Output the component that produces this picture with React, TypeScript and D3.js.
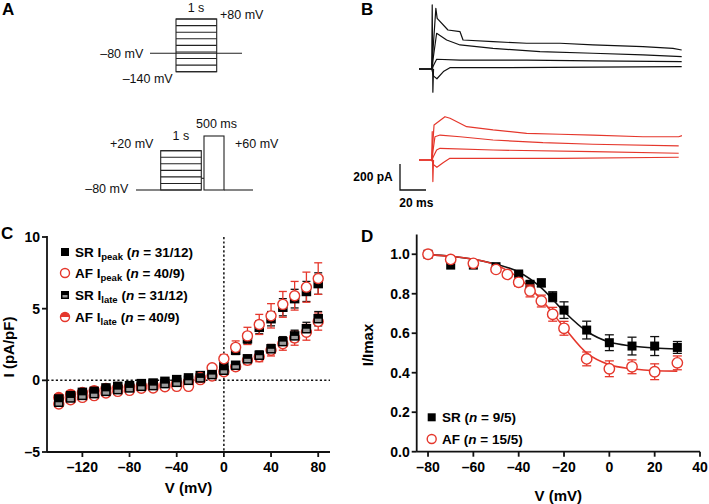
import React from 'react';
import * as d3 from 'd3';

const RED = '#e5372c';
const GRAY = '#9b9b9b';
const FONT = "'Liberation Sans', Arial, Helvetica, sans-serif";

// ---------- Panel A: protocol rungs (schematic step indices)
const protocolARungs = [0, 1, 2, 3, 4, 5, 6, 7, 8];
const protocolBRungs = [0, 1, 2, 3, 4, 5, 6];

// ---------- Panel B: current traces [time (ms), current (pA)]
const blackTrace1: [number, number][] = [[-9.8, 0], [0, 0], [3.2, 467], [4.2, 390], [12.5, 300], [21.8, 287], [24.1, 223], [47.2, 210], [73, 198], [98.7, 198], [124, 185], [162.5, 172], [185.6, 159], [192.3, 146]];
const blackTrace2: [number, number][] = [[-9.8, 0], [0, 0], [3.8, 275], [11.5, 223], [21.8, 185], [47.2, 159], [83.3, 133], [124, 121], [162.5, 108], [192.3, 95]];
const blackTrace3: [number, number][] = [[-9.8, 0], [0, 0], [3.8, 75], [21.8, 69], [73.3, 69], [124, 62], [192.3, 56]];
const blackTrace4: [number, number][] = [[-9.8, 0], [0, 0], [1.5, -55], [4, -75], [9, -20], [14, 10], [60, 10], [124, 15], [192.3, 18]];
const blackArtifact: [number, number][] = [[0, 0], [0.4, 493], [0.9, -178], [1.4, 0]];
const redTrace1: [number, number][] = [[-9.8, 0], [0, 0], [1.8, 269], [10.2, 333], [14.1, 321], [26.9, 256], [47.2, 231], [73, 205], [98.7, 198], [124, 192], [162.5, 179], [190, 179], [192.5, 187]];
const redTrace2: [number, number][] = [[-9.8, 0], [0, 0], [2.5, 179], [6.4, 192], [21.8, 179], [47.2, 154], [85.6, 133], [124, 121], [190, 108]];
const redTrace3: [number, number][] = [[-9.8, 0], [0, 0], [3.8, 77], [6.4, 90], [47.2, 77], [124, 64], [190, 52]];
const redTrace4: [number, number][] = [[-9.8, 0], [0, 0], [1.5, -37], [4, -56], [9, -19], [14, 13], [98.7, 13], [190, 21]];
const redArtifact: [number, number][] = [[0, 0], [0.4, 218], [0.9, -166], [1.4, 0]];
const scaleBarMs = 20;
const scaleBarPA = 200;

// ---------- Panel C: I-V
const voltagesC = [-140, -130, -120, -110, -100, -90, -80, -70, -60, -50, -40, -30, -20, -10, 0, 10, 20, 30, 40, 50, 60, 70, 80];
const srPeak = [-1.3, -1.07, -0.84, -0.77, -0.53, -0.42, -0.37, -0.23, -0.19, -0.07, 0.05, 0.17, 0.33, 0.6, 0.95, 2.1, 2.9, 3.7, 4.3, 5.1, 5.7, 6.2, 6.75];
const srPeakErr = [0.15, 0.15, 0.15, 0.15, 0.15, 0.15, 0.15, 0.15, 0.15, 0.15, 0.15, 0.15, 0.15, 0.15, 0.2, 0.3, 0.35, 0.45, 0.5, 0.6, 0.65, 0.7, 0.75];
const afPeak = [-1.65, -1.35, -1.19, -1.07, -0.88, -0.77, -0.7, -0.55, -0.53, -0.45, -0.42, -0.42, 0.2, 0.88, 1.5, 2.3, 3.1, 3.9, 4.5, 5.3, 5.9, 6.5, 7.1];
const afPeakErr = [0.2, 0.2, 0.2, 0.2, 0.2, 0.2, 0.2, 0.2, 0.2, 0.2, 0.2, 0.2, 0.2, 0.2, 0.3, 0.45, 0.6, 0.7, 0.85, 0.9, 1.0, 1.05, 1.1];
const srLate = [-1.53, -1.23, -1.05, -0.93, -0.77, -0.65, -0.53, -0.42, -0.37, -0.23, -0.14, 0.0, 0.17, 0.4, 0.7, 1.05, 1.5, 1.75, 2.2, 2.7, 3.1, 3.6, 4.3];
const srLateErr = [0.1, 0.1, 0.1, 0.1, 0.1, 0.1, 0.1, 0.1, 0.1, 0.1, 0.1, 0.1, 0.1, 0.1, 0.15, 0.2, 0.25, 0.3, 0.3, 0.35, 0.4, 0.45, 0.5];
const afLate = [-1.2, -0.98, -0.85, -0.72, -0.57, -0.5, -0.45, -0.38, -0.35, -0.3, -0.2, -0.1, 0.05, 0.3, 0.6, 0.95, 1.4, 1.65, 2.1, 2.55, 2.95, 3.35, 4.1];
const afLateErr = [0.15, 0.15, 0.15, 0.15, 0.15, 0.15, 0.15, 0.15, 0.15, 0.15, 0.15, 0.15, 0.15, 0.15, 0.2, 0.25, 0.3, 0.35, 0.4, 0.45, 0.5, 0.55, 0.6];
const xTicksC = [-120, -80, -40, 0, 40, 80];
const yTicksC = [-5, 0, 5, 10];

// ---------- Panel D: steady-state inactivation
const voltagesSR = [-80, -70, -60, -50, -40, -35, -30, -25, -20, -10, 0, 10, 20, 30];
const srNorm = [1.0, 0.945, 0.945, 0.937, 0.9, 0.848, 0.855, 0.785, 0.717, 0.616, 0.552, 0.535, 0.535, 0.528];
const srNormErr = [0, 0, 0, 0, 0.01, 0.015, 0.02, 0.025, 0.042, 0.045, 0.04, 0.045, 0.048, 0.03];
const voltagesAF = [-80, -70, -60, -50, -45, -40, -35, -30, -25, -20, -10, 0, 10, 20, 30];
const afNorm = [1.0, 0.974, 0.954, 0.923, 0.898, 0.858, 0.814, 0.763, 0.696, 0.625, 0.47, 0.42, 0.43, 0.405, 0.45];
const afNormErr = [0, 0.01, 0.01, 0.01, 0.01, 0.02, 0.03, 0.03, 0.035, 0.035, 0.035, 0.04, 0.035, 0.04, 0.035];
const fitVoltages = [-80, -70, -60, -50, -40, -30, -20, -10, 0, 10, 20, 30];
const srFit = [0.998, 0.99, 0.975, 0.95, 0.91, 0.83, 0.71, 0.61, 0.555, 0.535, 0.525, 0.52];
const afFit = [0.997, 0.99, 0.975, 0.945, 0.88, 0.77, 0.63, 0.5, 0.44, 0.42, 0.41, 0.408];
const xTicksD = [-80, -60, -40, -20, 0, 20, 40];
const yTicksD = [0, 0.2, 0.4, 0.6, 0.8, 1.0];

const fmtMinus = (v: number, digits = 0) => {
  const s = Math.abs(v).toFixed(digits);
  return v < 0 ? '\u2013' + s : s;
};

function Square({ x, y, s }: { x: number; y: number; s: number }) {
  return <rect x={x - s / 2} y={y - s / 2} width={s} height={s} fill="#000" />;
}
function SquareLate({ x, y, s }: { x: number; y: number; s: number }) {
  return (
    <g>
      <rect x={x - s / 2} y={y - s / 2} width={s} height={s} fill="#000" />
      <rect x={x - s / 2 + 1.5} y={y} width={s - 3} height={s / 2 - 1.5} fill={GRAY} />
    </g>
  );
}
function OpenCircle({ x, y, r }: { x: number; y: number; r: number }) {
  return <circle cx={x} cy={y} r={r} fill="#fff" stroke={RED} strokeWidth={1.4} />;
}
function HalfCircle({ x, y, r }: { x: number; y: number; r: number }) {
  return (
    <g>
      <circle cx={x} cy={y} r={r} fill="#fff" stroke={RED} strokeWidth={1.4} />
      <path d={`M${x - r},${y} A${r},${r} 0 0 1 ${x + r},${y} Z`} fill={RED} />
    </g>
  );
}
function ErrBar({ x, y0, y1, w, color }: { x: number; y0: number; y1: number; w: number; color: string }) {
  return (
    <g stroke={color} strokeWidth={1.3}>
      <line x1={x} x2={x} y1={y0} y2={y1} />
      <line x1={x - w / 2} x2={x + w / 2} y1={y0} y2={y0} />
      <line x1={x - w / 2} x2={x + w / 2} y1={y1} y2={y1} />
    </g>
  );
}

export default function App() {
  // Panel B scales
  const xB = d3.scaleLinear().domain([0, 193]).range([431.7, 682.6]);
  const yBk = d3.scaleLinear().domain([0, 200]).range([69, 43]);
  const yRd = d3.scaleLinear().domain([0, 200]).range([160, 134]);
  const lineBk = d3.line<[number, number]>().x(d => xB(d[0])).y(d => yBk(d[1]));
  const lineRd = d3.line<[number, number]>().x(d => xB(d[0])).y(d => yRd(d[1]));
  const sbX = 400, sbY = 190;
  const sbW = xB(scaleBarMs) - xB(0);
  const sbH = yRd(0) - yRd(scaleBarPA);

  // Panel C scales
  const xC = d3.scaleLinear().domain([-150, 90]).range([47, 330]);
  const yC = d3.scaleLinear().domain([-5, 10]).range([452, 237]);

  // Panel D scales
  const xD = d3.scaleLinear().domain([-85, 40]).range([416.7, 700]);
  const yD = d3.scaleLinear().domain([0, 1.1]).range([451.7, 234.5]);
  const fitLine = d3.line<number>().x((_, i) => xD(fitVoltages[i])).y(d => yD(d)).curve(d3.curveMonotoneX);

  // Panel A schematic scales
  const yPA = d3.scaleLinear().domain([0, 8]).range([19, 71.7]);
  const yPB = d3.scaleLinear().domain([0, 6]).range([150.7, 190]);

  const tick = 14;
  const boldTxt = { fontFamily: FONT, fontWeight: 700 } as const;
  const protoTxt = { fontFamily: FONT, fontSize: 12.5, fill: '#111' } as const;

  return (
    <svg width={709} height={504} style={{ position: 'absolute', left: 0, top: 0, background: '#fff' }}>
      {/* Panel letters */}
      <text x={2} y={14.5} fontSize={17} {...boldTxt}>A</text>
      <text x={361} y={15} fontSize={17} {...boldTxt}>B</text>
      <text x={1} y={238.5} fontSize={17} {...boldTxt}>C</text>
      <text x={361} y={241.5} fontSize={17} {...boldTxt}>D</text>

      {/* ---------- Panel A ---------- */}
      <g stroke="#222" strokeWidth={1.1} fill="none">
        <line x1={150} x2={242} y1={53.3} y2={53.3} />
        <rect x={176} y={yPA(0)} width={40.7} height={yPA(8) - yPA(0)} />
        {protocolARungs.map(r => (
          <line key={r} x1={176} x2={216.7} y1={yPA(r)} y2={yPA(r)} />
        ))}
        <line x1={136} x2={160.7} y1={190} y2={190} />
        <rect x={160.7} y={yPB(0)} width={40.6} height={yPB(6) - yPB(0)} />
        {protocolBRungs.map(r => (
          <line key={r} x1={160.7} x2={201.3} y1={yPB(r)} y2={yPB(r)} />
        ))}
        <line x1={201.3} x2={204} y1={178.3} y2={178.3} />
        <rect x={204} y={136} width={20} height={54} />
        <line x1={224} x2={253} y1={190} y2={190} />
      </g>
      <text x={196} y={11.7} textAnchor="middle" {...protoTxt}>1 s</text>
      <text x={220} y={18.5} {...protoTxt}>+80 mV</text>
      <text x={143.3} y={57.5} textAnchor="end" {...protoTxt}>{'\u201380 mV'}</text>
      <text x={172.7} y={83} textAnchor="end" {...protoTxt}>{'\u2013140 mV'}</text>
      <text x={216.5} y={128} textAnchor="middle" {...protoTxt}>500 ms</text>
      <text x={180.8} y={140} textAnchor="middle" {...protoTxt}>1 s</text>
      <text x={110} y={148} {...protoTxt}>+20 mV</text>
      <text x={235} y={148} {...protoTxt}>+60 mV</text>
      <text x={128.3} y={192.5} textAnchor="end" {...protoTxt}>{'\u201380 mV'}</text>

      {/* ---------- Panel B ---------- */}
      <g fill="none" stroke="#111" strokeWidth={1.2} strokeLinejoin="round">
        {[blackTrace4, blackTrace3, blackTrace2, blackTrace1, blackArtifact].map((t, i) => (
          <path key={i} d={lineBk(t) || ''} />
        ))}
      </g>
      <g fill="none" stroke={RED} strokeWidth={1.2} strokeLinejoin="round">
        {[redTrace4, redTrace3, redTrace2, redTrace1, redArtifact].map((t, i) => (
          <path key={i} d={lineRd(t) || ''} />
        ))}
      </g>
      <path d={`M${sbX},${sbY - sbH} L${sbX},${sbY} L${sbX + sbW},${sbY}`} fill="none" stroke="#111" strokeWidth={1.3} />
      <text x={392.7} y={181} textAnchor="end" fontSize={12} {...boldTxt}>200 pA</text>
      <text x={399.3} y={207} fontSize={12} {...boldTxt}>20 ms</text>

      {/* ---------- Panel C ---------- */}
      <g stroke="#111" strokeWidth={1.5} strokeDasharray="2.2,2.2">
        <line x1={xC(0)} x2={xC(0)} y1={yC(10)} y2={yC(-5)} />
        <line x1={xC(-150)} x2={xC(90)} y1={yC(0)} y2={yC(0)} />
      </g>
      <g stroke="#111" strokeWidth={1.8}>
        <line x1={xC(-150)} x2={xC(-150)} y1={yC(10) - 1} y2={yC(-5)} />
        <line x1={xC(-150)} x2={xC(90)} y1={yC(-5)} y2={yC(-5)} />
        {yTicksC.map(t => (
          <line key={t} x1={xC(-150) - 5} x2={xC(-150)} y1={yC(t)} y2={yC(t)} />
        ))}
        {xTicksC.map(t => (
          <line key={t} x1={xC(t)} x2={xC(t)} y1={yC(-5)} y2={yC(-5) + 5} />
        ))}
      </g>
      {yTicksC.map(t => (
        <text key={t} x={xC(-150) - 7} y={yC(t)} dy="0.36em" textAnchor="end" fontSize={tick} {...boldTxt}>{fmtMinus(t)}</text>
      ))}
      {xTicksC.map(t => (
        <text key={t} x={xC(t)} y={467} dy="0.36em" textAnchor="middle" fontSize={tick} {...boldTxt}>{fmtMinus(t)}</text>
      ))}
      <text x={188.5} y={488} dy="0.36em" textAnchor="middle" fontSize={15} {...boldTxt}>V (mV)</text>
      <text transform="translate(9,347) rotate(-90)" dy="0.36em" textAnchor="middle" fontSize={15} {...boldTxt}>I (pA/pF)</text>

      {/* error bars C */}
      {voltagesC.map((v, i) => (
        <g key={'e' + v}>
          <ErrBar x={xC(v)} y0={yC(afLate[i] - afLateErr[i])} y1={yC(afLate[i] + afLateErr[i])} w={8} color={RED} />
          <ErrBar x={xC(v)} y0={yC(srPeak[i] - srPeakErr[i])} y1={yC(srPeak[i] + srPeakErr[i])} w={8} color="#111" />
          <ErrBar x={xC(v)} y0={yC(afPeak[i] - afPeakErr[i])} y1={yC(afPeak[i] + afPeakErr[i])} w={8} color={RED} />
          <ErrBar x={xC(v)} y0={yC(srLate[i] - srLateErr[i])} y1={yC(srLate[i] + srLateErr[i])} w={8} color="#111" />
        </g>
      ))}
      {voltagesC.map((v, i) => <HalfCircle key={'al' + v} x={xC(v)} y={yC(afLate[i])} r={5} />)}
      {voltagesC.map((v, i) => <Square key={'sp' + v} x={xC(v)} y={yC(srPeak[i])} s={9.5} />)}
      {voltagesC.map((v, i) => <OpenCircle key={'ap' + v} x={xC(v)} y={yC(afPeak[i])} r={5} />)}
      {voltagesC.map((v, i) => <SquareLate key={'sl' + v} x={xC(v)} y={yC(srLate[i])} s={9.5} />)}

      {/* legend C */}
      <Square x={65} y={252} s={8} />
      <OpenCircle x={65} y={273} r={4.5} />
      <SquareLate x={65} y={295} s={8} />
      <HalfCircle x={65} y={317} r={4.5} />
      {[
        { y: 252, g: 'SR', sub: 'peak', n: '31/12' },
        { y: 273, g: 'AF', sub: 'peak', n: '40/9' },
        { y: 295, g: 'SR', sub: 'late', n: '31/12' },
        { y: 317, g: 'AF', sub: 'late', n: '40/9' },
      ].map(r => (
        <text key={r.y} x={75} y={r.y} dy="0.36em" fontSize={13.5} {...boldTxt}>
          {r.g} I<tspan fontSize={9.5} dy={3.5}>{r.sub}</tspan>
          <tspan dy={-3.5}> (</tspan>
          <tspan fontStyle="italic">n</tspan>
          <tspan>{` = ${r.n})`}</tspan>
        </text>
      ))}

      {/* ---------- Panel D ---------- */}
      <g stroke="#111" strokeWidth={1.8}>
        <line x1={xD(-85)} x2={xD(-85)} y1={yD(1.1)} y2={yD(0)} />
        <line x1={xD(-85)} x2={xD(40)} y1={yD(0)} y2={yD(0)} />
        {yTicksD.map(t => (
          <line key={t} x1={xD(-85) - 5} x2={xD(-85)} y1={yD(t)} y2={yD(t)} />
        ))}
        {xTicksD.map(t => (
          <line key={t} x1={xD(t)} x2={xD(t)} y1={yD(0)} y2={yD(0) + 5} />
        ))}
      </g>
      {yTicksD.map(t => (
        <text key={t} x={xD(-85) - 7} y={yD(t)} dy="0.36em" textAnchor="end" fontSize={tick} {...boldTxt}>{t.toFixed(1)}</text>
      ))}
      {xTicksD.map(t => (
        <text key={t} x={xD(t)} y={467.3} dy="0.36em" textAnchor="middle" fontSize={tick} {...boldTxt}>{fmtMinus(t)}</text>
      ))}
      <text x={558.3} y={496} dy="0.36em" textAnchor="middle" fontSize={15} {...boldTxt}>V (mV)</text>
      <text transform="translate(368,345) rotate(-90)" dy="0.36em" textAnchor="middle" fontSize={15} {...boldTxt}>I/Imax</text>

      <path d={fitLine(srFit) || ''} fill="none" stroke="#111" strokeWidth={1.6} />
      <path d={fitLine(afFit) || ''} fill="none" stroke={RED} strokeWidth={1.6} />
      {voltagesSR.map((v, i) => srNormErr[i] > 0 && (
        <ErrBar key={'se' + v} x={xD(v)} y0={yD(srNorm[i] - srNormErr[i])} y1={yD(srNorm[i] + srNormErr[i])} w={9} color="#111" />
      ))}
      {voltagesSR.map((v, i) => <Square key={'sd' + v} x={xD(v)} y={yD(srNorm[i])} s={9} />)}
      {voltagesAF.map((v, i) => afNormErr[i] > 0 && (
        <ErrBar key={'ae' + v} x={xD(v)} y0={yD(afNorm[i] - afNormErr[i])} y1={yD(afNorm[i] + afNormErr[i])} w={9} color={RED} />
      ))}
      {voltagesAF.map((v, i) => <OpenCircle key={'ad' + v} x={xD(v)} y={yD(afNorm[i])} r={5.2} />)}

      {/* legend D */}
      <Square x={431.7} y={417.3} s={8} />
      <OpenCircle x={431.7} y={439} r={4.5} />
      <text x={442} y={417.3} dy="0.36em" fontSize={13.5} {...boldTxt}>
        SR (<tspan fontStyle="italic">n</tspan> = 9/5)
      </text>
      <text x={442} y={439} dy="0.36em" fontSize={13.5} {...boldTxt}>
        AF (<tspan fontStyle="italic">n</tspan> = 15/5)
      </text>
    </svg>
  );
}
